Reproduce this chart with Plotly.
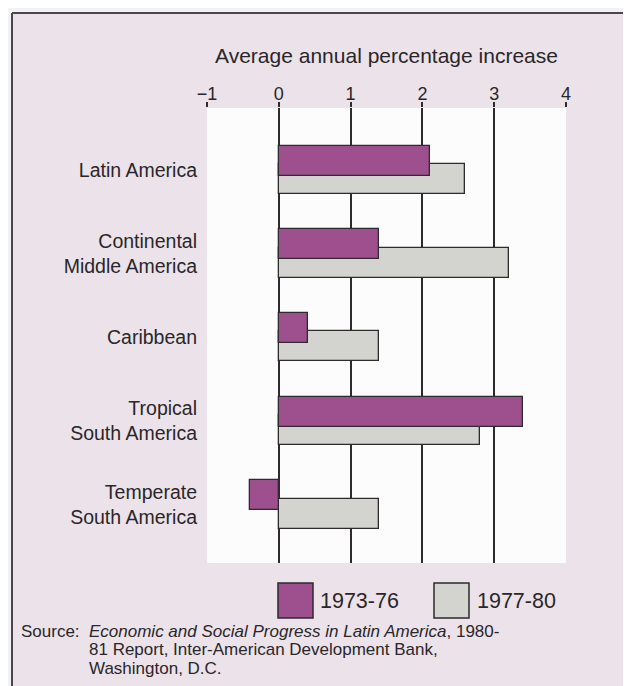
import plotly.graph_objects as go

# ---------------- data ----------------
regions = ["Latin America", "Continental<br>Middle America", "Caribbean",
           "Tropical<br>South America", "Temperate<br>South America"]
series_names = ["1973-76", "1977-80"]
v_1973_76 = [2.1, 1.4, 0.4, 3.4, -0.4]
v_1977_80 = [2.6, 3.2, 1.4, 2.8, 1.4]
x_ticks = [-1, 0, 1, 2, 3, 4]
x_title = "Average annual percentage increase"
source_label = "Source:"
source_lines = ["<i>Economic and Social Progress in Latin America</i>, 1980-",
                "81 Report, Inter-American Development Bank,",
                "Washington, D.C."]

# ---------------- style ----------------
OFF = 8                      # page body margin in the browser
W, H = 631 - OFF, 686 - OFF
ML, MR, MT, MB = 207 - OFF, 65, 108 - OFF, 123
PW, PH = W - ML - MR, H - MT - MB
BG = "#ebe3e9"
PURPLE = "#9e4f8d"
GREY = "#d3d3cf"
EDGE = "#2e2a2e"
TXT = "#2a262a"
FONT = "Liberation Sans, Arial, sans-serif"


def px(x):
    # reference-picture pixel -> paper fraction
    return (x - 207) / PW


def py(y):
    return (563 - y) / PH


fig = go.Figure()
fig.add_trace(go.Bar(
    y=regions, x=v_1977_80, orientation="h", name=series_names[1],
    marker=dict(color=GREY, line=dict(color=EDGE, width=1.3)),
    width=0.36, offset=-0.07, showlegend=False))
fig.add_trace(go.Bar(
    y=regions, x=v_1973_76, orientation="h", name=series_names[0],
    marker=dict(color=PURPLE, line=dict(color=EDGE, width=1.3)),
    width=0.36, offset=-0.29, showlegend=False))

shapes = []
# outer page strips (outside frame)
shapes.append(dict(type="rect", xref="paper", yref="paper", x0=px(0), x1=px(12),
                   y0=py(700), y1=py(0), fillcolor="#f3f1f3", line=dict(width=0), layer="below"))
shapes.append(dict(type="rect", xref="paper", yref="paper", x0=px(0), x1=px(640),
                   y0=py(13), y1=py(0), fillcolor="#f3f1f3", line=dict(width=0), layer="below"))
# frame lines
shapes.append(dict(type="line", xref="paper", yref="paper", x0=px(12), x1=px(12),
                   y0=py(13), y1=py(700), line=dict(color="#4a464a", width=2)))
shapes.append(dict(type="line", xref="paper", yref="paper", x0=px(12), x1=px(640),
                   y0=py(13), y1=py(13), line=dict(color="#4a464a", width=2)))

# legend boxes
annotations = []
leg = [(278, 313, 318, PURPLE, series_names[0]), (434, 469, 475, GREY, series_names[1])]
for x0, x1, tx, col, name in leg:
    shapes.append(dict(type="rect", xref="paper", yref="paper", x0=px(x0), x1=px(x1),
                       y0=py(618), y1=py(583), fillcolor=col, line=dict(color=EDGE, width=1.5)))
    annotations.append(dict(xref="paper", yref="paper", x=px(tx), y=py(601), text=name,
                            showarrow=False, xanchor="left", yanchor="middle",
                            font=dict(size=21.5, color=TXT, family=FONT)))

annotations.append(dict(xref="paper", yref="paper", x=px(19), y=py(631), text=source_label,
                        showarrow=False, xanchor="left", yanchor="middle", align="left",
                        font=dict(size=17, color=TXT, family=FONT)))
for i, line in enumerate(source_lines):
    annotations.append(dict(xref="paper", yref="paper", x=px(87), y=py(631 + 18.7 * i), text=line,
                            showarrow=False, xanchor="left", yanchor="middle", align="left",
                            font=dict(size=17, color=TXT, family=FONT)))

fig.update_layout(
    width=W, height=H,
    margin=dict(l=ML, r=MR, t=MT, b=MB, pad=0),
    paper_bgcolor=BG, plot_bgcolor="#fcfcfc",
    barmode="overlay", bargap=0,
    font=dict(family=FONT, color=TXT),
    shapes=shapes, annotations=annotations,
    xaxis=dict(
        side="top", range=[-1, 4], tickvals=x_ticks,
        ticks="outside", ticklen=5, tickwidth=1.5, tickcolor=EDGE,
        showgrid=True, gridcolor=EDGE, gridwidth=1.5,
        zeroline=False, showline=False,
        ticklabelstandoff=-5,
        tickfont=dict(size=18, color=TXT),
        title=dict(text=x_title, font=dict(size=21, color=TXT), standoff=14),
    ),
    yaxis=dict(
        type="category", range=[4.70, -0.74],
        showgrid=False, zeroline=False, showline=False, ticks="",
        ticklabelstandoff=9,
        tickfont=dict(size=19.5, color=TXT),
    ),
)

fig.write_html("out.html")
